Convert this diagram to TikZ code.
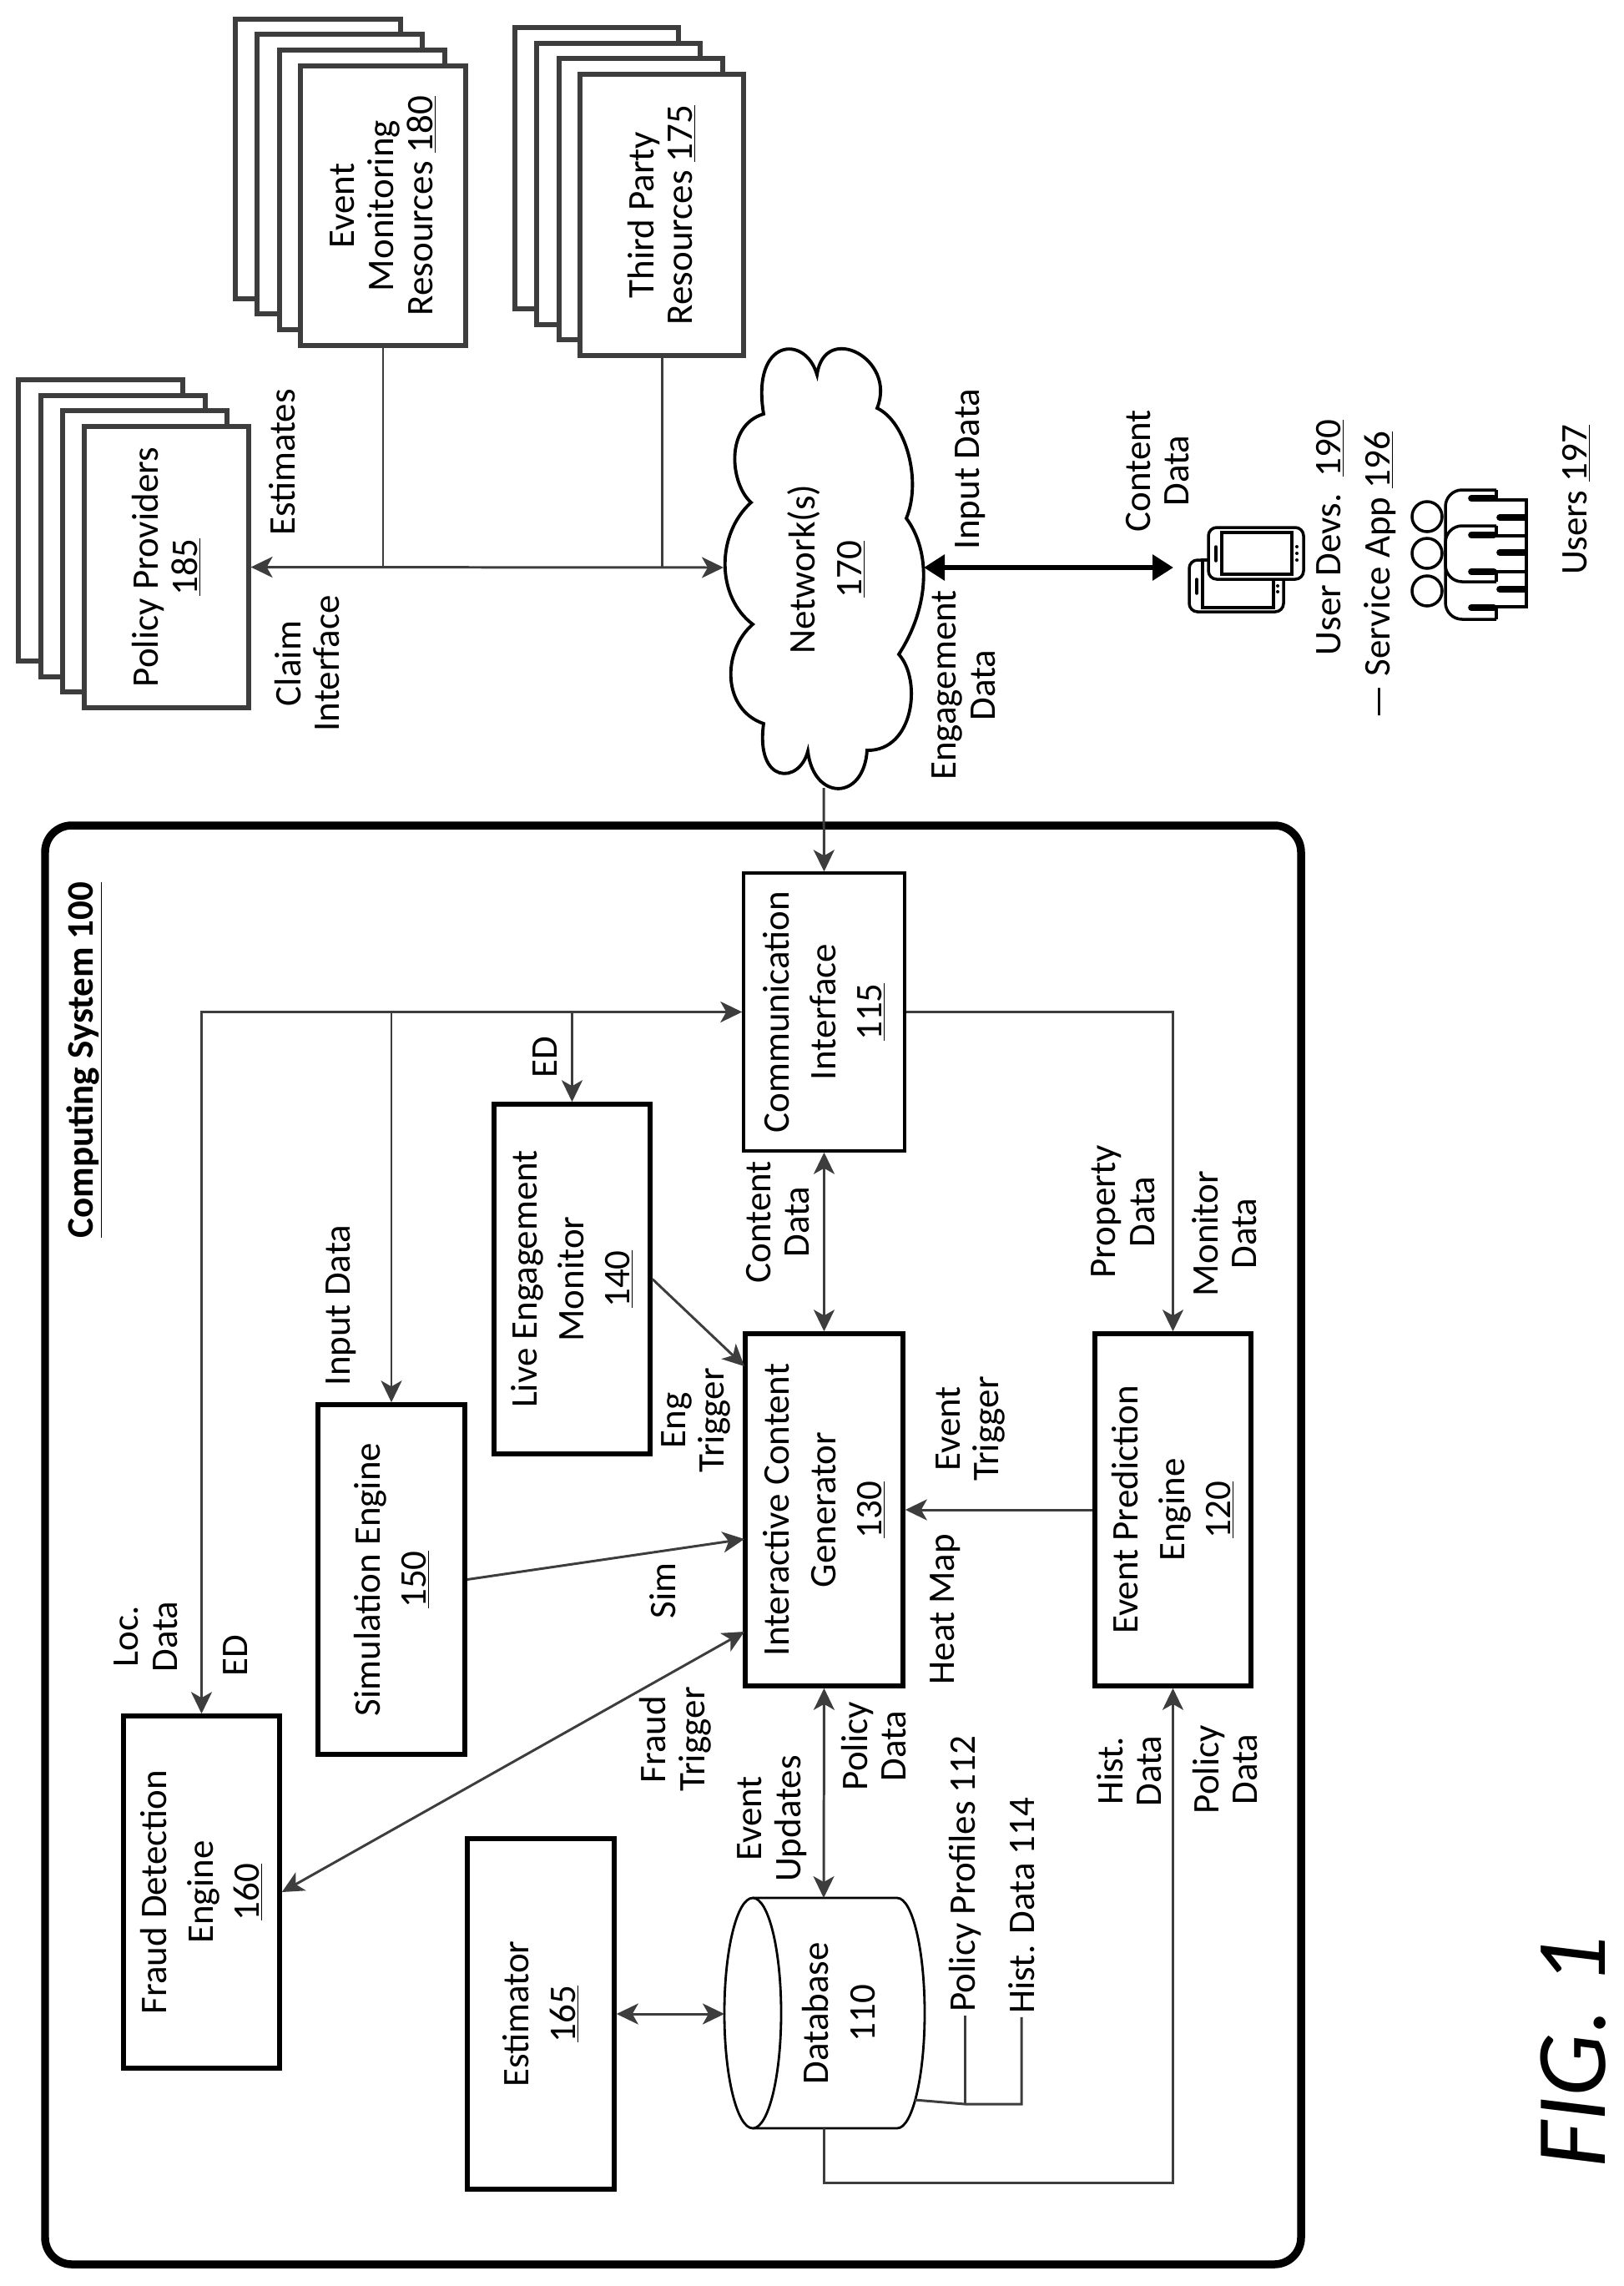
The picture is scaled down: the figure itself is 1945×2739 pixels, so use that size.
\documentclass[tikz,border=0pt]{standalone}
\usepackage{fontspec}
\usepackage{xcolor}
\usetikzlibrary{arrows.meta}
\setmainfont{Carlito}
\colorlet{linegray}{black!76}

\tikzset{
    lbl/.style={rotate=90, align=center, inner sep=0.08cm, font=\fontsize{25.6}{26.5}\selectfont},
    tall/.style={lbl, font=\fontsize{25.6}{31.5}\selectfont},
    block/.style={tall, draw=black, fill=white, line width=3.2pt},
    thinblock/.style={tall, draw=black, fill=white, line width=2pt},
    front/.style={lbl, draw=linegray, fill=white, line width=3pt},
    layer/.style={draw=linegray, fill=white, line width=3pt},
    link/.style={draw=linegray, line width=1.7pt, >={Stealth[length=0.52cm, width=0.5cm, inset=0.14cm]}},
    biglink/.style={draw=black, line width=3.4pt, >={Triangle[length=0.5cm, width=0.6cm]}},
    icon/.style={draw=black, fill=white, line width=2pt},
    bar/.style={draw=black, line width=4.4pt, line cap=round},
}

\begin{document}
\begin{tikzpicture}[x=0.02cm, y=-0.02cm]
    \useasboundingbox (0, 0) rectangle (1945, 2739);
    % coordinates
    \coordinate (net-left) at (867, 680);
    \coordinate (net-right) at (1107, 680);
    \coordinate (net-bottom) at (987, 944);
    \coordinate (devs-left) at (1406, 680);
    \coordinate (gen-eng) at (892, 1637);
    \coordinate (gen-sim) at (892, 1844);
    \coordinate (gen-fraud) at (892, 1955);
    \coordinate (db-top) at (987, 2274);
    \coordinate (db-bottom) at (987, 2550);
    \coordinate (db-left) at (868, 2413);
    \coordinate (db-run) at (987, 2615);
    \coordinate (db-side) at (1096, 2516);
    \coordinate (db-join) at (1156, 2521);
    % computing system frame
    \draw[line width=5.4pt, rounded corners=0.64cm] (54, 989) rectangle (1559, 2713);
    \node[lbl] (system-title) at (101, 1270) {\textbf{\underline{Computing System 100}}};
    % policy providers
    \foreach \x/\y in {22/455, 49/474, 75/492}
        \draw[layer] (\x, \y) rectangle ++(197, 337);
    \node[front, minimum width=6.74cm, minimum height=3.94cm] (providers) at (199.5, 679.5) {Policy Providers\\\underline{185}};
    % event monitoring resources
    \foreach \x/\y in {282/23, 308/41, 335/60}
        \draw[layer] (\x, \y) rectangle ++(198, 335);
    \node[front, minimum width=6.7cm, minimum height=3.96cm] (monitoring) at (459, 246.5) {Event\\Monitoring\\Resources \underline{180}};
    % third party resources
    \foreach \x/\y in {617/33, 643/52, 670/70}
        \draw[layer] (\x, \y) rectangle ++(196, 337);
    \node[front, minimum width=6.74cm, minimum height=3.92cm] (third-party) at (793, 257.5) {Third Party\\Resources \underline{175}};
    % network cloud
    \draw[line width=2.2pt, fill=white] (979, 449)
        .. controls (988, 385) and (1075, 430) .. (1051, 489)
        .. controls (1085, 505) and (1105, 575) .. (1086, 621)
        .. controls (1115, 660) and (1115, 725) .. (1077, 784)
        .. controls (1105, 815) and (1095, 900) .. (1039, 899)
        .. controls (1035, 960) and (975, 960) .. (968, 900)
        .. controls (958, 940) and (905, 940) .. (915, 867)
        .. controls (865, 850) and (865, 780) .. (902, 748)
        .. controls (858, 715) and (858, 640) .. (900, 602)
        .. controls (875, 580) and (868, 510) .. (915, 496)
        .. controls (900, 405) and (965, 400) .. (979, 449) -- cycle;
    \node[tall] (network) at (990, 682) {Network(s)\\\underline{170}};
    % blocks of the computing system
    \node[thinblock, minimum width=6.66cm, minimum height=3.86cm] (comm) at (987.5, 1212.5) {Communication\\Interface\\\underline{115}};
    \node[block, minimum width=8.44cm, minimum height=3.78cm] (content-gen) at (987.5, 1809) {Interactive Content\\Generator\\\underline{130}};
    \node[block, minimum width=8.44cm, minimum height=3.74cm] (prediction) at (1405.5, 1809) {Event Prediction\\Engine\\\underline{120}};
    \node[block, minimum width=8.38cm, minimum height=3.74cm] (live-monitor) at (685.5, 1532.5) {Live Engagement\\Monitor\\\underline{140}};
    \node[block, minimum width=8.38cm, minimum height=3.52cm] (simulation) at (469, 1892.5) {Simulation Engine\\\underline{150}};
    \node[block, minimum width=8.44cm, minimum height=3.74cm] (fraud) at (241.5, 2267) {Fraud Detection\\Engine\\\underline{160}};
    \node[block, minimum width=8.4cm, minimum height=3.52cm] (estimator) at (648, 2413) {Estimator\\\underline{165}};
    % database
    \draw[line width=1.6pt, fill=white] (902, 2274) -- (1075, 2274) arc[start angle=-90, end angle=90, x radius=33, y radius=138] -- (902, 2550);
    \draw[line width=1.6pt, fill=white] (902, 2412) ellipse[x radius=34, y radius=138];
    \node[tall] (database) at (1005, 2412) {Database\\110};
    % line network -> providers, resources
    \draw[link, <->] (providers.south) -- (net-left);
    \draw[link] (monitoring.west) -- (monitoring.west |- net-left);
    \draw[link] (third-party.west) -- (third-party.west |- net-left);
    % line network -> user devices
    \draw[biglink, <->] (net-right) -- (devs-left);
    % line network -> communication interface
    \draw[link, ->] (net-bottom) -- (comm.east);
    % lines out of communication interface
    \draw[link, <->] (fraud.east) |- (comm.north);
    \draw[link, ->] (simulation.east |- comm.north) -- (simulation.east);
    \draw[link, ->] (live-monitor.east |- comm.north) -- (live-monitor.east);
    \draw[link, <->] (comm.west) -- (content-gen.east);
    \draw[link, ->] (comm.south) -| (prediction.east);
    % lines into content generator
    \draw[link, ->] (prediction.north) -- (content-gen.south);
    \draw[link, ->] (live-monitor.south) -- (gen-eng);
    \draw[link, ->] (simulation.south) -- (gen-sim);
    \draw[link, <->] (fraud.south) -- (gen-fraud);
    % lines around database
    \draw[link, <->] (content-gen.west) -- (db-top);
    \draw[link, <->] (estimator.south) -- (db-left);
    \draw[link, ->] (db-bottom) -- (db-run) -| (prediction.west);
    % texts of the links
    \node[lbl] (estimates) at (338, 554) {Estimates};
    \node[lbl] (claim) at (368, 795) {Claim\\Interface};
    \node[lbl] (input-net) at (1163, 562) {Input Data};
    \node[lbl] (engagement) at (1155, 821) {Engagement\\Data};
    \node[lbl] (content-net) at (1387, 564) {Content\\Data};
    \node[lbl] (ed-live) at (653, 1267) {ED};
    \node[lbl] (input-sim) at (409, 1564) {Input Data};
    \node[lbl] (content-gen-data) at (932, 1464) {Content\\Data};
    \node[lbl] (eng-trigger) at (834, 1702) {Eng\\Trigger};
    \node[lbl] (property) at (1346, 1452) {Property\\Data};
    \node[lbl] (monitor-data) at (1467, 1478) {Monitor\\Data};
    \node[lbl] (event-trigger) at (1163, 1712) {Event\\Trigger};
    \node[lbl] (heat-map) at (1133, 1928) {Heat Map};
    \node[lbl] (sim-label) at (794, 1906) {Sim};
    \node[lbl] (loc-data) at (175, 1961) {Loc.\\Data};
    \node[lbl] (ed-fraud) at (282, 1984) {ED};
    \node[lbl] (fraud-trigger) at (809, 2084) {Fraud\\Trigger};
    \node[lbl] (event-updates) at (925, 2179) {Event\\Updates};
    \node[lbl] (policy-gen) at (1047, 2092) {Policy\\Data};
    \node[lbl] (hist-event) at (1353, 2122) {Hist.\\Data};
    \node[lbl] (policy-event) at (1468, 2120) {Policy\\Data};
    % database contents
    \node[lbl] (profiles) at (1156, 2245) {Policy Profiles 112};
    \node[lbl] (hist-data) at (1224, 2283) {Hist. Data 114};
    \draw[link] (db-side) -- (db-join) -- (hist-data.west |- db-join) -- (hist-data.west);
    \draw[link] (profiles.west) -- (profiles.west |- db-join);
    % user devices
    \draw[icon, rounded corners=0.2cm] (1425, 671) rectangle (1538, 733);
    \draw[icon] (1441, 671) rectangle (1526, 728);
    \draw[bar, line width=2pt] (1434, 694) -- (1434, 711);
    \foreach \y in {702, 709}
        \fill (1531, \y) circle (2);
    \draw[icon, rounded corners=0.2cm] (1448, 632) rectangle (1562, 694);
    \draw[icon] (1464, 638) rectangle (1548, 688);
    \draw[bar, line width=2pt] (1457, 655) -- (1457, 672);
    \foreach \y in {655, 663, 671}
        \fill (1554, \y) circle (2);
    \node[lbl] (user-devs) at (1594, 644) {User Devs.\ \ \underline{190}};
    \node[lbl] (service-app) at (1654, 689) {--- Service App \underline{196}};
    % users
    \foreach \y in {619, 663, 708}
        \draw[line width=2pt] (1710, \y) circle (18);
    \draw[line width=2pt, rounded corners=0.4cm] (1793, 587) -- (1732, 587) -- (1732, 742) -- (1793, 742);
    \draw[line width=2pt, rounded corners=0.4cm] (1793, 630) -- (1732, 630) -- (1732, 697) -- (1793, 697);
    \draw[line width=2pt] (1793, 587) -- (1793, 599) -- (1829, 599) -- (1829, 727) -- (1793, 727) -- (1793, 742);
    \draw[line width=2pt] (1793, 630) -- (1793, 642) -- (1829, 642);
    \draw[line width=2pt] (1793, 697) -- (1793, 685) -- (1829, 685);
    \foreach \y in {597, 641, 685, 728}
        \draw[bar] (1763, \y) -- (1790, \y);
    \foreach \y in {620, 662, 706}
        \draw[bar] (1797, \y) -- (1827, \y);
    \node[lbl] (users) at (1889, 599) {Users \underline{197}};
    % figure label
    \node[rotate=90, inner sep=0pt, font=\fontsize{68}{68}\selectfont\itshape] (fig-label) at (1885, 2458) {FIG. 1};
\end{tikzpicture}
\end{document}
